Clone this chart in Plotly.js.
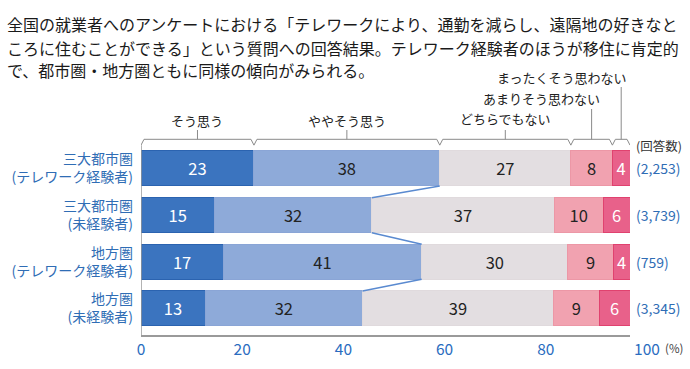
<!DOCTYPE html>
<html>
<head>
<meta charset="utf-8">
<script src="https://cdn.plot.ly/plotly-3.0.1.min.js"></script>
<style>
  html, body { margin: 0; padding: 0; background: #ffffff; }
  #chart { width: 690px; height: 369px; }
</style>
</head>
<body>
<div id="chart"></div>
<script>
// ---------------- data ----------------
const categories = ['三大都市圏<br>(テレワーク経験者)', '三大都市圏<br>(未経験者)', '地方圏<br>(テレワーク経験者)', '地方圏<br>(未経験者)'];
const respondents = ['(2,253)', '(3,739)', '(759)', '(3,345)'];
const seriesNames = ['そう思う', 'ややそう思う', 'どちらでもない', 'あまりそう思わない', 'まったくそう思わない'];

// bar lengths (%)
const agree        = [23.1, 15.0, 16.8, 13.1];
const somewhatAgree = [38.0, 32.2, 40.6, 32.2];
const neutral      = [26.8, 37.3, 29.9, 39.0];
const notMuch      = [8.5, 10.0, 9.3, 9.4];
const notAtAll     = [3.6, 5.5, 3.4, 6.3];

// printed labels
const agreeLabels        = [23, 15, 17, 13];
const somewhatAgreeLabels = [38, 32, 41, 32];
const neutralLabels      = [27, 37, 30, 39];
const notMuchLabels      = [8, 10, 9, 9];
const notAtAllLabels     = [4, 6, 4, 6];

const xTickVals = [0, 20, 40, 60, 80, 100];
const xTickText = ['0', '20', '40', '60', '80', '100'];

// ---------------- styling ----------------
const FONT = '"Noto Sans CJK JP", "Noto Sans", sans-serif';
const BLUE_TXT = '#2f6db5';
const colors = ['#3b74bf', '#8eaad9', '#e3dee1', '#f1a2b0', '#e8618a'];
const lineColors = ['#2b63b0', '#8aa5d6', '#e0dadd', '#ec97a6', '#e0426f'];
const textColors = ['#ffffff', '#222222', '#222222', '#222222', '#ffffff'];

const L = 141, R = 43, T = 66, Bm = 34, Wd = 690, Ht = 369;
const plotW = Wd - L - R;              // 506
const barAxisPx = 489;                 // 0..100 of bars spans 141..630
const pitch = 46.67;                   // px per category
const yBottom = 3.568;
const plotBottom = Ht - Bm;
const yTop = yBottom - (plotBottom - T) / pitch;
const ppu = barAxisPx / 100;

function pxX(px) { return (px - L) / plotW; }
function pxY(py) { return (plotBottom - py) / (plotBottom - T); }
function yData(py) { return (py - (plotBottom - yBottom * pitch)) / pitch; }

const yIdx = categories.map((c, i) => i);
const valueSets = [agree, somewhatAgree, neutral, notMuch, notAtAll];
const labelSets = [agreeLabels, somewhatAgreeLabels, neutralLabels, notMuchLabels, notAtAllLabels];

const traces = valueSets.map((vals, k) => ({
  type: 'bar',
  orientation: 'h',
  name: seriesNames[k],
  x: vals,
  y: yIdx,
  width: 0.75,
  text: labelSets[k].map(String),
  textposition: 'inside',
  insidetextanchor: 'middle',
  constraintext: 'none',
  textangle: 0,
  textfont: { family: FONT, size: 16.5, color: textColors[k] },
  marker: { color: colors[k], line: { color: lineColors[k], width: 1 } },
  hoverinfo: 'skip',
  xaxis: 'x', yaxis: 'y'
}));
// invisible trace so the tick-label axis (0–100 %) is drawn
traces.push({
  type: 'scatter', mode: 'markers', x: [xTickVals[0], xTickVals[xTickVals.length - 1]], y: [0, 0],
  marker: { opacity: 0, size: 1 }, hoverinfo: 'skip', showlegend: false,
  xaxis: 'x2', yaxis: 'y'
});

// cumulative positions
const cum = categories.map((c, i) => {
  let s = 0; const out = [0];
  valueSets.forEach(v => { s += v[i]; out.push(s); });
  return out;
});

const shapes = [];
// connector lines between end of blue segments
for (let i = 0; i < categories.length - 1; i++) {
  shapes.push({
    type: 'line', xref: 'x', yref: 'y',
    x0: cum[i][2], y0: i + 0.375, x1: cum[i + 1][2], y1: i + 1 - 0.375,
    line: { color: '#5a8ad0', width: 1.5 }
  });
}
// y axis line
shapes.push({
  type: 'line', xref: 'x', yref: 'y',
  x0: 0, x1: 0, y0: -0.5, y1: yBottom,
  line: { color: '#9a9a9a', width: 1.5 }
});
// bracket above first bar
const yb = -0.5, yl = -0.625, d = 3 / ppu;
const b = cum[0];
let path = `M ${b[0]},${yb} L ${b[0] + d},${yl}`;
for (let k = 1; k < b.length - 1; k++) {
  path += ` L ${b[k] - d},${yl} L ${b[k]},${yb} L ${b[k] + d},${yl}`;
}
path += ` L ${b[b.length - 1] - d},${yl} L ${b[b.length - 1]},${yb}`;
shapes.push({ type: 'path', xref: 'x', yref: 'y', path: path, line: { color: '#8a8a8a', width: 1 } });

const centers = [0, 1, 2, 3, 4].map(k => (b[k] + b[k + 1]) / 2);
const tickTops = [yData(130), yData(130), yData(130), yData(109), yData(87)];
centers.forEach((cx, k) => {
  shapes.push({ type: 'line', xref: 'x', yref: 'y', x0: cx, x1: cx, y0: yl, y1: tickTops[k],
    line: { color: '#8a8a8a', width: 1 } });
});

const annotations = [];
// title lines
const titleLines = [
  '全国の就業者へのアンケートにおける「テレワークにより、通勤を減らし、遠隔地の好きなと',
  'ころに住むことができる」という質問への回答結果。テレワーク経験者のほうが移住に肯定的',
  'で、都市圏・地方圏ともに同様の傾向がみられる。'
];
const titleY = [24.5, 47.5, 70];
titleLines.forEach((t, i) => annotations.push({
  xref: 'paper', yref: 'paper', x: pxX(5), y: pxY(titleY[i]), xanchor: 'left', yanchor: 'middle',
  text: t, showarrow: false, font: { family: FONT, size: 16, color: '#1a1a1a' }
}));
// bracket labels
const labelY = [yData(120), yData(120), yData(118), yData(98), yData(77)];
centers.forEach((cx, k) => {
  const right = k >= 3;
  annotations.push({
    xref: 'x', yref: 'y', x: right ? cx + (k === 3 ? 10 : 7) / ppu : cx, y: labelY[k],
    xanchor: right ? 'right' : 'center', yanchor: 'middle',
    text: seriesNames[k], showarrow: false, font: { family: FONT, size: 13, color: '#222' }
  });
});
// respondents
annotations.push({
  xref: 'x', yref: 'y', x: 100, xshift: 4, y: yData(145), xanchor: 'left', yanchor: 'middle',
  text: '(回答数)', showarrow: false, font: { family: FONT, size: 12.5, color: '#333' }
});
respondents.forEach((t, i) => annotations.push({
  xref: 'x', yref: 'y', x: 100, xshift: 4, y: i, xanchor: 'left', yanchor: 'middle',
  text: t, showarrow: false, font: { family: FONT, size: 14, color: BLUE_TXT }
}));
// (%)
annotations.push({
  xref: 'paper', yref: 'paper', x: pxX(663), y: pxY(348), xanchor: 'left', yanchor: 'middle',
  text: '(%)', showarrow: false, font: { family: FONT, size: 11.5, color: '#444' }
});

const layout = {
  width: Wd, height: Ht,
  margin: { l: L, r: R, t: T, b: Bm, pad: 0 },
  paper_bgcolor: '#ffffff', plot_bgcolor: 'rgba(0,0,0,0)',
  barmode: 'stack',
  showlegend: false,
  font: { family: FONT },
  xaxis: {
    domain: [0, barAxisPx / plotW], range: [0, 100], anchor: 'y',
    showticklabels: false, ticks: '', showgrid: false, zeroline: false,
    showline: true, linecolor: '#9a9a9a', linewidth: 1.5, fixedrange: true
  },
  xaxis2: {
    domain: [0, 1], range: [0, 100], anchor: 'y',
    tickvals: xTickVals, ticktext: xTickText, ticks: '',
    ticklabelstandoff: 3,
    showgrid: false, zeroline: false, showline: false,
    tickfont: { family: FONT, size: 15.5, color: '#2a6cc0' }, fixedrange: true
  },
  yaxis: {
    range: [yBottom, yTop], tickvals: yIdx, ticktext: categories,
    ticks: '', showgrid: false, zeroline: false, showline: false,
    ticklabelstandoff: 7,
    tickfont: { family: FONT, size: 14, color: BLUE_TXT }, fixedrange: true
  },
  shapes: shapes,
  annotations: annotations
};

Plotly.newPlot('chart', traces, layout, { displayModeBar: false, staticPlot: true });
</script>
</body>
</html>
